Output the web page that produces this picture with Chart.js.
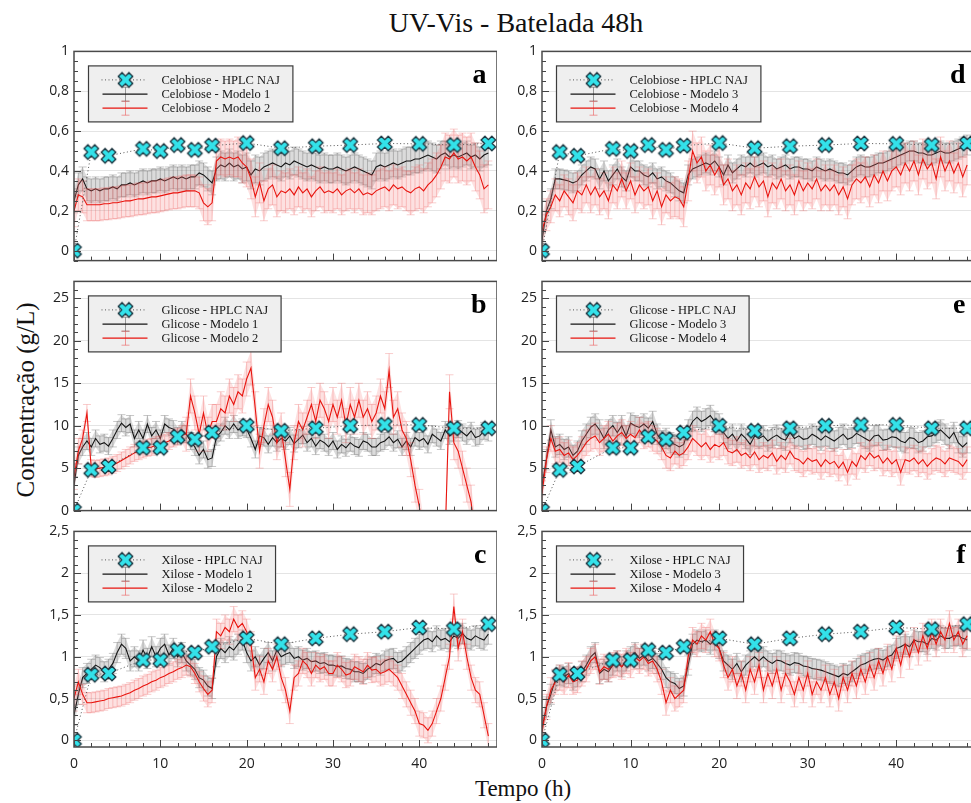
<!DOCTYPE html>
<html>
<head>
<meta charset="utf-8">
<script src="https://cdn.jsdelivr.net/npm/chart.js@4.4.1/dist/chart.umd.min.js"></script>
<style>
  html, body { margin: 0; padding: 0; background: #fff; overflow: hidden; }
  #wrap { position: relative; width: 971px; height: 803px; overflow: hidden; background: #fff; }
  #wrap canvas { position: absolute; }
  .txt { position: absolute; font-family: "Liberation Serif", "Times New Roman", serif; color: #111; white-space: nowrap; line-height: 1; }
</style>
</head>
<body>
<div id="wrap">
  <div class="txt" style="left:316px; width:400px; text-align:center; top:9px; font-size:28px;">UV-Vis - Batelada 48h</div>
  <div class="txt" style="left:25px; top:400px; font-size:25px; transform:translate(-50%,-50%) rotate(-90deg);">Concentração (g/L)</div>
  <div class="txt" style="left:523px; top:788px; font-size:23px; transform:translate(-50%,-50%);">Tempo (h)</div>
</div>
<script>
// tempo (h) das curvas dos modelos
const tempo = [0,0.5,1,1.5,2,2.5,3,3.5,4,4.5, 5,5.5,6,6.5,7,7.5,8,8.5,9,9.5,
  10,10.5,11,11.5,12,12.5,13,13.5,14,14.5, 15,15.5,16,16.5,17,17.5,18,18.5,19,19.5,
  20,20.5,21,21.5,22,22.5,23,23.5,24,24.5, 25,25.5,26,26.5,27,27.5,28,28.5,29,29.5,
  30,30.5,31,31.5,32,32.5,33,33.5,34,34.5, 35,35.5,36,36.5,37,37.5,38,38.5,39,39.5,
  40,40.5,41,41.5,42,42.5,43,43.5,44,44.5, 45,45.5,46,46.5,47,47.5,48];

// HPLC NAJ
const tempoHPLC = [0,2,4,8,10,12,14,16,20,24,28,32,36,40,44,48];
const celHPLC = [0,0.495,0.476,0.511,0.50,0.53,0.506,0.527,0.54,0.514,0.524,0.53,0.538,0.536,0.53,0.538];
const gliHPLC = [0,4.8,5.2,7.4,7.4,8.7,8.4,9.2,10.0,9.4,9.7,10.0,10.1,10.1,9.7,9.7];
const xilHPLC = [0,0.785,0.80,0.96,0.96,1.08,1.05,1.12,1.22,1.15,1.22,1.27,1.30,1.35,1.33,1.39];

// Celobiose
const celM1 = [0.25,0.33,0.36,0.31,0.30,0.31,0.30,0.31,0.31,0.32, 0.31,0.33,0.33,0.34,0.33,0.34,0.35,0.34,0.35,0.35,
  0.36,0.35,0.36,0.37,0.36,0.37,0.36,0.37,0.37,0.39, 0.38,0.36,0.34,0.41,0.43,0.42,0.44,0.42,0.43,0.41,
  0.42,0.38,0.41,0.40,0.42,0.43,0.44,0.43,0.42,0.44, 0.43,0.45,0.44,0.43,0.42,0.43,0.42,0.41,0.42,0.41,
  0.41,0.42,0.41,0.40,0.41,0.42,0.41,0.40,0.39,0.38, 0.42,0.43,0.42,0.43,0.44,0.43,0.44,0.45,0.45,0.46,
  0.46,0.47,0.48,0.47,0.46,0.48,0.49,0.47,0.48,0.47, 0.48,0.49,0.47,0.48,0.46,0.48,0.49];
const celM2 = [0.20,0.28,0.27,0.23,0.23,0.23,0.23,0.235,0.235,0.24, 0.24,0.245,0.25,0.25,0.255,0.26,0.26,0.265,0.27,0.27,
  0.275,0.28,0.285,0.29,0.29,0.295,0.30,0.30,0.30,0.29, 0.24,0.22,0.24,0.45,0.47,0.46,0.47,0.46,0.47,0.44,
  0.42,0.36,0.27,0.34,0.25,0.31,0.33,0.27,0.30,0.29, 0.31,0.28,0.32,0.29,0.31,0.27,0.30,0.32,0.29,0.30,
  0.29,0.31,0.28,0.30,0.31,0.29,0.31,0.28,0.29,0.28, 0.30,0.31,0.32,0.30,0.33,0.31,0.32,0.30,0.29,0.31,
  0.32,0.30,0.33,0.35,0.38,0.42,0.47,0.46,0.49,0.46, 0.47,0.45,0.47,0.42,0.38,0.31,0.33];
const celM3 = [0.05,0.20,0.26,0.36,0.36,0.355,0.35,0.34,0.35,0.38, 0.40,0.42,0.41,0.36,0.40,0.35,0.38,0.41,0.37,0.35,
  0.42,0.40,0.40,0.38,0.37,0.39,0.36,0.37,0.35,0.34, 0.32,0.30,0.29,0.38,0.41,0.42,0.43,0.44,0.43,0.45,
  0.42,0.38,0.43,0.39,0.41,0.43,0.42,0.44,0.42,0.43, 0.44,0.42,0.43,0.41,0.42,0.43,0.41,0.42,0.42,0.41,
  0.41,0.40,0.42,0.41,0.40,0.41,0.40,0.39,0.39,0.38, 0.40,0.42,0.43,0.42,0.42,0.43,0.44,0.44,0.45,0.46,
  0.47,0.48,0.49,0.50,0.50,0.49,0.49,0.48,0.48,0.49, 0.50,0.49,0.49,0.50,0.51,0.52,0.53];
const celM4 = [0.10,0.18,0.22,0.28,0.25,0.30,0.27,0.24,0.30,0.28, 0.33,0.28,0.32,0.27,0.30,0.25,0.33,0.30,0.36,0.30,
  0.35,0.28,0.33,0.30,0.32,0.25,0.30,0.22,0.28,0.25, 0.27,0.26,0.22,0.35,0.50,0.44,0.47,0.40,0.43,0.38,
  0.42,0.33,0.36,0.30,0.33,0.28,0.34,0.31,0.37,0.32, 0.35,0.27,0.34,0.31,0.36,0.30,0.33,0.28,0.35,0.30,
  0.34,0.31,0.36,0.30,0.33,0.30,0.33,0.28,0.32,0.26, 0.33,0.36,0.34,0.37,0.32,0.38,0.34,0.40,0.35,0.40,
  0.42,0.38,0.44,0.40,0.45,0.38,0.46,0.41,0.44,0.36, 0.47,0.40,0.45,0.39,0.44,0.37,0.43];

// Glicose
const gliM1 = [3.0,6.5,7.5,8.2,7.5,8.5,7.8,8.0,7.6,8.5, 9.5,10.3,9.8,10.2,8.5,9.5,8.5,10.2,8.8,9.5,
  8.5,10.2,9.8,9.6,8.8,9.5,9.0,8.2,7.5,6.5, 7.2,6.0,6.2,8.7,9.2,10.0,9.5,10.2,9.5,9.8,
  9.6,8.5,7.2,8.8,8.6,7.8,8.6,8.0,8.5,8.2, 8.8,7.9,8.4,8.9,8.0,8.5,7.6,8.3,8.0,7.5,
  8.2,7.2,7.8,7.4,8.0,7.6,7.4,8.2,8.0,7.5, 7.5,8.0,8.2,8.7,8.0,8.4,7.5,8.2,7.5,8.6,
  8.2,8.5,7.8,9.0,8.6,8.2,9.5,8.8,9.2,9.6, 9.2,8.8,9.4,8.6,8.8,9.4,9.2];
const gliM2 = [4.0,7.0,8.5,11.5,5.0,4.9,5.0,5.1,5.2,5.4, 5.6,5.9,6.2,6.5,6.8,7.0,7.2,7.4,7.5,7.7,
  7.8,8.0,8.2,8.5,8.7,9.0,9.0,13.5,11.5,9.0, 11.5,9.0,10.5,10.5,12.0,11.5,13.5,12.5,14.0,13.5,
  15.5,16.8,12.0,7.0,10.0,12.5,11.0,8.0,9.5,6.0, 2.5,8.0,10.5,9.5,11.0,12.5,10.5,13.0,12.0,10.5,
  12.5,11.0,13.0,10.0,12.5,11.0,13.0,11.0,12.0,10.5, 11.5,13.5,12.0,16.5,11.0,12.0,9.5,8.5,6.0,3.0,
  0.5,-3,-3,-3,-3,-3,-3,14.0,8.0,7.0, 5.0,3.0,1.0,-3,-3,-3,-3];
const gliM3 = [3.0,6.0,9.5,7.5,7.8,7.2,7.5,6.5,7.0,8.2, 9.0,9.8,10.2,9.5,8.5,9.5,10.0,9.2,10.0,8.8,
  10.3,10.0,9.8,10.2,9.7,10.5,9.0,8.2,8.5,8.0, 7.8,7.5,7.8,9.5,10.5,11.0,10.5,10.8,11.2,10.5,
  10.2,9.2,8.5,9.0,8.2,9.0,8.5,7.8,8.8,8.5, 8.8,8.2,8.6,8.9,8.5,8.3,9.2,8.5,8.8,8.4,
  8.5,9.0,8.7,8.3,8.8,8.5,8.2,8.6,9.0,8.4, 8.6,9.1,8.8,8.5,8.2,8.8,8.9,8.3,8.4,8.7,
  8.6,8.2,8.0,8.6,8.5,8.0,8.2,8.7,8.8,9.2, 9.5,9.0,8.5,9.2,8.0,7.5,8.0];
const gliM4 = [2.0,6.0,8.5,7.0,7.2,6.5,6.8,6.0,6.5,7.2, 8.0,8.5,8.8,8.0,8.5,9.0,8.2,8.8,9.2,8.5,
  9.0,8.6,9.5,8.8,9.0,8.5,8.2,7.5,6.5,6.2, 7.0,6.5,6.8,7.5,8.5,8.0,7.5,8.0,7.2,7.8,
  7.5,8.0,7.0,6.8,7.2,6.5,6.8,6.2,6.9,6.0, 6.5,6.2,6.8,5.8,6.5,6.0,7.0,6.2,6.0,5.5,
  6.2,5.8,6.0,5.2,6.0,5.5,5.8,5.0,5.7,4.5, 5.8,5.2,6.5,6.0,6.8,6.2,6.5,5.6,6.2,5.5,
  6.0,4.5,6.0,5.8,6.2,5.5,6.0,5.2,5.8,6.2, 6.0,5.5,6.2,6.0,5.8,5.2,6.0];

// Xilose
const xilM1 = [0.30,0.55,0.75,0.80,0.85,0.90,0.87,0.82,0.85,0.92, 1.05,1.15,1.10,0.95,1.00,0.95,1.08,0.98,1.12,1.00,
  1.10,1.15,1.02,1.10,1.00,1.05,0.95,0.90,0.85,0.75, 0.72,0.65,0.62,1.00,1.10,1.05,1.12,1.08,1.15,1.20,
  1.05,0.95,1.00,0.90,0.98,1.05,0.95,1.08,1.00,1.03, 1.05,0.98,1.00,0.96,0.98,0.94,0.95,0.92,0.93,0.90,
  0.90,0.88,0.89,0.86,0.85,0.82,0.82,0.80,0.85,0.88, 0.92,0.90,0.95,0.97,0.98,0.93,0.95,1.00,1.05,1.10,
  1.15,1.20,1.22,1.18,1.25,1.20,1.22,1.18,1.25,1.22, 1.28,1.22,1.20,1.25,1.22,1.20,1.27];
const xilM2 = [0.50,0.70,0.55,0.45,0.45,0.46,0.47,0.48,0.50,0.51, 0.52,0.53,0.55,0.57,0.60,0.62,0.65,0.67,0.70,0.72,
  0.75,0.77,0.80,0.82,0.85,0.87,0.90,0.88,0.80,0.70, 0.62,0.55,0.60,1.30,1.25,1.35,1.30,1.45,1.35,1.40,
  1.30,1.15,0.75,0.85,0.70,0.95,0.85,1.00,0.75,0.60, 0.35,0.75,0.80,0.95,0.90,0.80,0.90,0.85,0.88,0.80,
  0.80,0.90,0.85,0.78,0.80,0.88,0.85,0.82,0.90,0.84, 0.85,0.80,0.82,0.85,0.80,0.75,0.65,0.55,0.45,0.35,
  0.20,0.18,0.12,0.20,0.35,0.50,0.75,1.00,1.60,1.10, 1.30,1.00,0.75,0.60,0.55,0.30,0.05];
const xilM3 = [0.15,0.40,0.55,0.72,0.78,0.76,0.80,0.72,0.76,0.82, 0.90,1.00,1.05,0.80,0.85,0.82,0.90,0.95,0.88,0.95,
  1.00,1.05,0.98,1.02,0.95,0.98,0.92,0.85,0.75,0.70, 0.68,0.62,0.65,0.90,1.15,1.20,1.18,1.20,1.15,1.20,
  1.10,0.95,0.90,0.85,0.92,0.82,0.90,0.95,1.00,0.95, 1.00,0.95,0.92,0.96,0.95,0.92,0.90,0.93,0.92,0.89,
  0.88,0.86,0.85,0.84,0.82,0.80,0.78,0.76,0.80,0.78, 0.82,0.86,0.90,0.92,0.95,0.97,0.98,0.96,1.00,1.02,
  1.10,1.12,1.15,1.12,1.20,1.18,1.18,1.15,1.22,1.20, 1.25,1.22,1.22,1.25,1.25,1.22,1.20];
const xilM4 = [0.10,0.40,0.60,0.70,0.75,0.70,0.78,0.70,0.72,0.80, 0.85,0.95,1.00,0.82,0.88,0.85,0.90,0.92,0.88,0.95,
  0.90,1.00,0.95,1.00,0.92,0.95,0.85,0.70,0.45,0.60, 0.50,0.55,0.60,1.00,1.20,1.15,1.25,1.20,1.30,1.15,
  1.10,0.90,0.75,0.85,0.65,0.80,0.60,0.85,0.70,0.90, 0.60,0.80,0.65,0.85,0.60,0.80,0.70,0.55,0.75,0.60,
  0.80,0.55,0.70,0.60,0.75,0.55,0.70,0.50,0.75,0.60, 0.80,0.65,0.85,0.70,0.90,0.75,0.95,0.80,1.00,0.85,
  1.10,0.90,1.15,1.00,1.20,1.05,1.25,1.10,1.30,1.15, 1.30,1.20,1.40,1.20,1.30,1.15,1.25];

// desvios (um valor a cada 2 h, de 0 a 48 h)
const errCelM1 = [0.06,0.06,0.06,0.06,0.06,0.06,0.06,0.06,0.06,0.07,0.07,0.07,0.07,0.07,0.07,0.07,0.07,0.07,0.07,0.07,0.07,0.07,0.06,0.06,0.06];
const errCelM2 = [0.08,0.08,0.08,0.08,0.08,0.08,0.08,0.08,0.09,0.09,0.10,0.10,0.10,0.10,0.10,0.10,0.10,0.10,0.10,0.10,0.11,0.11,0.12,0.12,0.12];
const errCelM3 = [0.05,0.05,0.05,0.05,0.05,0.05,0.05,0.05,0.05,0.05,0.05,0.05,0.05,0.05,0.05,0.05,0.05,0.05,0.05,0.05,0.05,0.05,0.05,0.05,0.05];
const errCelM4 = [0.08,0.08,0.09,0.09,0.09,0.09,0.09,0.09,0.10,0.10,0.10,0.10,0.10,0.10,0.10,0.10,0.10,0.10,0.10,0.10,0.10,0.10,0.10,0.10,0.10];
const errGliM1 = [1.0,1.0,1.0,1.0,1.0,1.0,1.0,1.0,1.0,1.0,1.0,1.0,1.0,1.0,1.0,1.0,1.0,1.0,1.0,1.0,1.0,1.0,1.0,1.0,1.0];
const errGliM2 = [1.5,1.0,1.0,1.0,1.0,1.0,1.0,2.0,2.0,2.0,2.0,2.0,2.0,2.0,2.0,2.0,2.0,2.0,2.0,2.0,2.0,2.0,2.0,2.0,2.0];
const errGliM3 = [1.2,1.2,1.2,1.2,1.2,1.2,1.2,1.2,1.2,1.2,1.2,1.2,1.2,1.2,1.2,1.2,1.2,1.2,1.2,1.2,1.2,1.2,1.2,1.2,1.2];
const errGliM4 = [1.5,1.5,1.5,1.5,1.5,1.5,1.5,1.5,1.5,1.5,1.5,1.5,1.5,1.5,1.5,1.5,1.5,1.5,1.5,1.5,1.5,1.5,1.5,1.5,1.5];
const errXilM1 = [0.12,0.12,0.12,0.12,0.12,0.12,0.12,0.12,0.12,0.12,0.12,0.12,0.12,0.12,0.12,0.12,0.12,0.12,0.12,0.12,0.12,0.12,0.12,0.12,0.12];
const errXilM2 = [0.15,0.12,0.12,0.12,0.12,0.12,0.12,0.12,0.15,0.15,0.15,0.15,0.15,0.15,0.15,0.15,0.15,0.15,0.15,0.15,0.15,0.15,0.15,0.15,0.15];
const errXilM3 = [0.12,0.12,0.12,0.12,0.12,0.12,0.12,0.12,0.12,0.12,0.12,0.12,0.12,0.12,0.12,0.12,0.12,0.12,0.12,0.12,0.12,0.12,0.12,0.12,0.12];
const errXilM4 = [0.15,0.15,0.15,0.15,0.15,0.15,0.15,0.15,0.15,0.15,0.15,0.15,0.15,0.15,0.15,0.15,0.15,0.15,0.15,0.15,0.15,0.15,0.15,0.15,0.15];

// marcas dos eixos
const xTicks = [0,10,20,30,40];
const yTicksCel = [0,0.2,0.4,0.6,0.8,1];
const yTicksGli = [0,5,10,15,20,25];
const yTicksXil = [0,0.5,1,1.5,2,2.5];

// geometria das linhas e colunas do painel
const rows = [
  { top: 48, bottom: 268, min: -0.05, max: 1, ticks: yTicksCel, minor: 0.05 },
  { top: 278, bottom: 518, min: 0, max: 27, ticks: yTicksGli, minor: 1 },
  { top: 528, bottom: 747, min: -0.08, max: 2.5, ticks: yTicksXil, minor: 0.1 }
];
const cols = [
  { canvasLeft: 0, areaLeft: 74, areaRight: 497 },
  { canvasLeft: 505, areaLeft: 542, areaRight: 976 }
];

const panels = [
  { letra: "a", col: 0, row: 0, hplc: celHPLC, m1: celM1, m2: celM2, e1: errCelM1, e2: errCelM2,
    nomes: ["Celobiose - HPLC NAJ", "Celobiose - Modelo 1", "Celobiose - Modelo 2"] },
  { letra: "b", col: 0, row: 1, hplc: gliHPLC, m1: gliM1, m2: gliM2, e1: errGliM1, e2: errGliM2,
    nomes: ["Glicose - HPLC NAJ", "Glicose - Modelo 1", "Glicose - Modelo 2"] },
  { letra: "c", col: 0, row: 2, hplc: xilHPLC, m1: xilM1, m2: xilM2, e1: errXilM1, e2: errXilM2,
    nomes: ["Xilose - HPLC NAJ", "Xilose - Modelo 1", "Xilose - Modelo 2"] },
  { letra: "d", col: 1, row: 0, hplc: celHPLC, m1: celM3, m2: celM4, e1: errCelM3, e2: errCelM4,
    nomes: ["Celobiose - HPLC NAJ", "Celobiose - Modelo 3", "Celobiose - Modelo 4"] },
  { letra: "e", col: 1, row: 1, hplc: gliHPLC, m1: gliM3, m2: gliM4, e1: errGliM3, e2: errGliM4,
    nomes: ["Glicose - HPLC NAJ", "Glicose - Modelo 3", "Glicose - Modelo 4"] },
  { letra: "f", col: 1, row: 2, hplc: xilHPLC, m1: xilM3, m2: xilM4, e1: errXilM3, e2: errXilM4,
    nomes: ["Xilose - HPLC NAJ", "Xilose - Modelo 3", "Xilose - Modelo 4"] }
];

const CIANO = "#33e2ea";
const PRETO = "#151515";
const VERMELHO = "#e8150f";
const fmt = v => String(v).replace(".", ",");

// marcador em X (ciano com contorno escuro)
function criarMarcador(tam) {
  const c = document.createElement("canvas");
  c.width = tam; c.height = tam;
  const g = c.getContext("2d");
  const L = 7.6, w = 2.7;
  g.translate(tam / 2, tam / 2);
  g.rotate(Math.PI / 4);
  g.beginPath();
  const p = [[-w,-L],[w,-L],[w,-w],[L,-w],[L,w],[w,w],[w,L],[-w,L],[-w,w],[-L,w],[-L,-w],[-w,-w]];
  p.forEach((q, i) => i ? g.lineTo(q[0], q[1]) : g.moveTo(q[0], q[1]));
  g.closePath();
  g.fillStyle = CIANO;
  g.fill();
  g.lineWidth = 1.3;
  g.strokeStyle = "#1d3640";
  g.stroke();
  return c;
}
const marcador = criarMarcador(19);

function erroEm(errs, t) {
  return errs[Math.min(errs.length - 1, Math.round(t / 2))];
}

// barras de erro desenhadas antes de cada curva
const barrasErro = {
  id: "barrasErro",
  beforeDatasetDraw(chart, args) {
    const ds = chart.data.datasets[args.index];
    if (!ds.errs) return;
    const { ctx, chartArea: a, scales: { x, y } } = chart;
    ctx.save();
    ctx.beginPath();
    ctx.rect(a.left, a.top, a.right - a.left, a.bottom - a.top);
    ctx.clip();
    const pts = ds.data;
    ctx.fillStyle = ds.corFaixa;
    ctx.beginPath();
    pts.forEach((p, i) => {
      const X = x.getPixelForValue(p.x);
      const Y = y.getPixelForValue(p.y + erroEm(ds.errs, p.x));
      i ? ctx.lineTo(X, Y) : ctx.moveTo(X, Y);
    });
    for (let i = pts.length - 1; i >= 0; i--) {
      const p = pts[i];
      ctx.lineTo(x.getPixelForValue(p.x), y.getPixelForValue(p.y - erroEm(ds.errs, p.x)));
    }
    ctx.closePath();
    ctx.fill();
    ctx.strokeStyle = ds.corBarra;
    ctx.lineWidth = 1;
    ctx.beginPath();
    pts.forEach(p => {
      const e = erroEm(ds.errs, p.x);
      const X = x.getPixelForValue(p.x);
      const y1 = y.getPixelForValue(p.y + e), y2 = y.getPixelForValue(p.y - e);
      ctx.moveTo(X, y1); ctx.lineTo(X, y2);
      ctx.moveTo(X - 4, y1); ctx.lineTo(X + 4, y1);
      ctx.moveTo(X - 4, y2); ctx.lineTo(X + 4, y2);
    });
    ctx.stroke();
    ctx.restore();
  }
};

// moldura, marcas internas, legenda e letra do painel
const moldura = {
  id: "moldura",
  afterDraw(chart, args, opts) {
    const { ctx, chartArea: a, scales: { x, y } } = chart;
    ctx.save();
    // marcas do eixo x
    ctx.strokeStyle = "#444";
    ctx.lineWidth = 1;
    ctx.beginPath();
    for (let t = 0; t <= 49; t += 2) {
      const X = Math.round(x.getPixelForValue(t)) + 0.5;
      const len = t % 10 === 0 ? 7 : 4;
      ctx.moveTo(X, a.bottom); ctx.lineTo(X, a.bottom - len);
    }
    // marcas do eixo y
    const r = opts.row;
    const n0 = Math.ceil(r.min / r.minor - 1e-6), n1 = Math.floor(r.max / r.minor + 1e-6);
    for (let k = n0; k <= n1; k++) {
      const v = k * r.minor;
      const major = r.ticks.some(tv => Math.abs(tv - v) < 1e-6);
      const Y = Math.round(y.getPixelForValue(v)) + 0.5;
      ctx.moveTo(a.left, Y); ctx.lineTo(a.left + (major ? 7 : 4), Y);
    }
    ctx.stroke();
    ctx.strokeStyle = "#4a4a4a";
    ctx.lineWidth = 1.5;
    ctx.strokeRect(a.left, a.top, a.right - a.left, a.bottom - a.top);

    // legenda
    ctx.font = '12.5px "Liberation Serif", "Times New Roman", serif';
    const larg = Math.max(...opts.nomes.map(s => ctx.measureText(s).width));
    const x0 = a.left + 14.5, y0 = a.top + 14.5;
    const w = 73 + larg + 13, h = 56;
    ctx.fillStyle = "#efefef";
    ctx.fillRect(x0, y0, w, h);
    ctx.strokeStyle = "#3c3c3c";
    ctx.lineWidth = 1.2;
    ctx.strokeRect(x0, y0, w, h);
    const ry = [y0 + 14, y0 + 28.3, y0 + 42.3];
    // HPLC
    ctx.strokeStyle = "#555";
    ctx.lineWidth = 1;
    ctx.setLineDash([1, 2.5]);
    ctx.beginPath(); ctx.moveTo(x0 + 13, ry[0]); ctx.lineTo(x0 + 57, ry[0]); ctx.stroke();
    ctx.setLineDash([]);
    ctx.drawImage(marcador, x0 + 37 - marcador.width / 2, ry[0] - marcador.height / 2);
    // modelos
    [[PRETO, "rgba(90,90,90,0.6)", ry[1]], [VERMELHO, "rgba(235,80,80,0.55)", ry[2]]].forEach(([cor, corErr, yy]) => {
      ctx.strokeStyle = corErr;
      ctx.lineWidth = 1;
      ctx.beginPath();
      ctx.moveTo(x0 + 37, yy - 7); ctx.lineTo(x0 + 37, yy + 7);
      ctx.moveTo(x0 + 33, yy - 7); ctx.lineTo(x0 + 41, yy - 7);
      ctx.moveTo(x0 + 33, yy + 7); ctx.lineTo(x0 + 41, yy + 7);
      ctx.stroke();
      ctx.strokeStyle = cor;
      ctx.lineWidth = 1.3;
      ctx.beginPath(); ctx.moveTo(x0 + 14, yy); ctx.lineTo(x0 + 59, yy); ctx.stroke();
    });
    ctx.fillStyle = "#151515";
    ctx.textBaseline = "middle";
    ctx.textAlign = "left";
    opts.nomes.forEach((s, i) => ctx.fillText(s, x0 + 73, ry[i] + 0.5));

    // letra
    ctx.font = 'bold 28px "Liberation Serif", "Times New Roman", serif';
    ctx.textAlign = "right";
    ctx.textBaseline = "alphabetic";
    ctx.fillStyle = "#000";
    ctx.fillText(opts.letra, a.right - 10.5, a.top + 32);
    ctx.restore();
  }
};

const wrap = document.getElementById("wrap");

panels.forEach(pn => {
  const r = rows[pn.row], c = cols[pn.col];
  const comEixoX = pn.row === 2;
  const padTop = 10, padBottom = comEixoX ? 0 : 6, eixoXAlt = 40;
  const top = r.top - padTop;
  const height = (r.bottom - top) + (comEixoX ? eixoXAlt : padBottom);
  const width = c.areaRight - c.canvasLeft;

  const cv = document.createElement("canvas");
  cv.width = width; cv.height = height;
  cv.style.left = c.canvasLeft + "px";
  cv.style.top = top + "px";
  cv.style.width = width + "px";
  cv.style.height = height + "px";
  wrap.appendChild(cv);

  new Chart(cv.getContext("2d"), {
    type: "line",
    data: {
      datasets: [
        {
          label: pn.nomes[0],
          data: tempoHPLC.map((t, i) => ({ x: t, y: pn.hplc[i] })),
          borderColor: "#555",
          borderWidth: 1,
          borderDash: [1, 2.5],
          pointStyle: marcador,
          pointRadius: 9,
          clip: 0,
          order: 0
        },
        {
          label: pn.nomes[2],
          data: tempo.map((t, i) => ({ x: t, y: pn.m2[i] })),
          borderColor: VERMELHO,
          borderWidth: 1.1,
          pointRadius: 0,
          errs: pn.e2,
          corFaixa: "rgba(245,120,120,0.22)",
          corBarra: "rgba(235,80,80,0.28)",
          clip: 0,
          order: 1
        },
        {
          label: pn.nomes[1],
          data: tempo.map((t, i) => ({ x: t, y: pn.m1[i] })),
          borderColor: PRETO,
          borderWidth: 1.1,
          pointRadius: 0,
          errs: pn.e1,
          corFaixa: "rgba(110,110,110,0.25)",
          corBarra: "rgba(80,80,80,0.32)",
          clip: 0,
          order: 2
        }
      ]
    },
    options: {
      responsive: false,
      animation: false,
      devicePixelRatio: 1,
      events: [],
      layout: { autoPadding: false, padding: { top: padTop, bottom: padBottom, left: 0, right: 0 } },
      plugins: {
        legend: { display: false },
        tooltip: { enabled: false },
        moldura: { row: r, nomes: pn.nomes, letra: pn.letra }
      },
      scales: {
        x: {
          type: "linear",
          min: 0,
          max: 49,
          display: comEixoX,
          grid: { display: false, drawTicks: false },
          border: { display: false },
          afterBuildTicks: s => { s.ticks = xTicks.map(v => ({ value: v })); },
          afterFit: s => { s.height = comEixoX ? eixoXAlt : 0; },
          ticks: {
            padding: 9,
            maxRotation: 0,
            autoSkip: false,
            color: "#222",
            font: { family: "Open Sans", size: 14 },
            callback: v => fmt(v)
          }
        },
        y: {
          type: "linear",
          min: r.min,
          max: r.max,
          grid: { color: "#e4e4e4", drawTicks: false, lineWidth: 1 },
          border: { display: false },
          afterBuildTicks: s => { s.ticks = r.ticks.map(v => ({ value: v })); },
          afterFit: s => { s.width = c.areaLeft - c.canvasLeft; },
          ticks: {
            padding: 5,
            autoSkip: false,
            color: "#222",
            font: { family: "Open Sans", size: 14 },
            callback: v => fmt(v)
          }
        }
      }
    },
    plugins: [barrasErro, moldura]
  });
});
</script>
</body>
</html>
